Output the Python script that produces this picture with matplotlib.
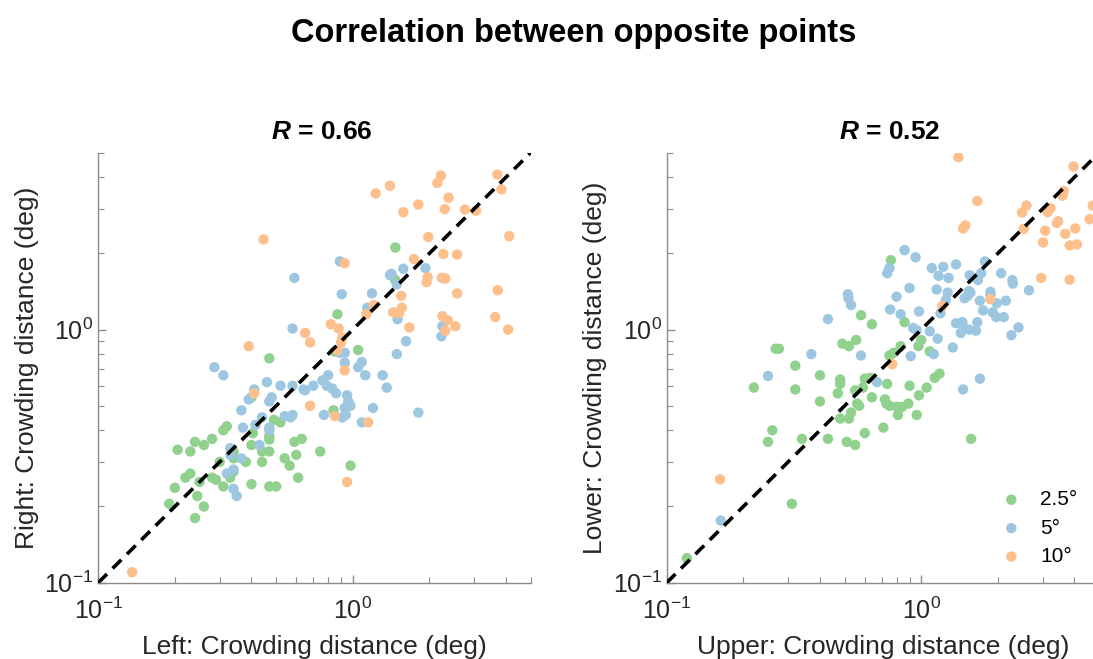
import matplotlib
matplotlib.use('Agg')
import matplotlib.pyplot as plt
from matplotlib.ticker import LogLocator, NullFormatter, LogFormatterSciNotation
import numpy as np

plt.rcParams['font.family'] = ['Liberation Sans', 'DejaVu Sans']
plt.rcParams['mathtext.fontset'] = 'custom'
plt.rcParams['mathtext.rm'] = 'Liberation Sans'
plt.rcParams['mathtext.it'] = 'Liberation Sans:italic'
plt.rcParams['mathtext.bf'] = 'Liberation Sans:bold'
plt.rcParams['mathtext.bfit'] = 'Liberation Sans:italic:bold'

# crowding distances (deg), left vs right
lr_green_x = [1.47, 0.87, 1.47, 0.47, 1.05, 0.85, 0.84, 0.40, 0.49, 0.52, 0.32, 0.31, 0.28, 0.24, 0.26,
              0.205, 0.23, 0.40, 0.405, 0.47, 0.47, 0.44, 0.47, 0.63, 0.59, 0.54, 0.60, 0.745, 0.34, 0.34,
              0.38, 0.30, 0.44, 0.565, 0.34, 0.23, 0.22, 0.25, 0.28, 0.29, 0.33, 0.31, 0.40, 0.47, 0.50,
              0.61, 0.98, 0.20, 0.245, 0.19, 0.26, 0.24]
lr_green_y = [2.11, 1.15, 1.57, 0.77, 0.83, 0.82, 0.48, 0.54, 0.44, 0.43, 0.415, 0.40, 0.37, 0.36, 0.35,
              0.335, 0.33, 0.35, 0.39, 0.38, 0.368, 0.33, 0.33, 0.37, 0.36, 0.31, 0.32, 0.33, 0.33, 0.31,
              0.30, 0.30, 0.30, 0.29, 0.275, 0.27, 0.26, 0.25, 0.26, 0.255, 0.26, 0.24, 0.245, 0.24, 0.24,
              0.26, 0.29, 0.237, 0.22, 0.205, 0.20, 0.18]
lr_blue_x = [0.89, 0.59, 0.905, 1.58, 1.93, 1.40, 1.42, 1.49, 1.19, 1.14, 1.50, 2.25, 2.23, 1.62, 1.49,
             0.58, 0.93, 0.89, 0.93, 1.05, 1.085, 1.12, 1.31, 1.36, 0.286, 0.31, 0.46, 0.52, 0.58, 0.41,
             0.64, 0.65, 0.70, 0.76, 0.80, 0.79, 0.83, 0.86, 0.95, 0.96, 0.98, 0.93, 0.94, 0.91, 1.20,
             0.77, 1.085, 1.81, 0.48, 0.47, 0.39, 0.365, 0.44, 0.54, 0.58, 0.57, 0.47, 0.47, 0.415, 0.37,
             0.43, 0.33, 0.33, 0.365, 0.34, 0.32, 0.34, 0.35]
lr_blue_y = [1.86, 1.60, 1.38, 1.74, 1.75, 1.64, 1.66, 1.51, 1.39, 1.22, 1.10, 1.03, 0.94, 0.90, 0.80,
             1.01, 0.81, 0.81, 0.74, 0.71, 0.745, 0.66, 0.66, 0.59, 0.71, 0.66, 0.62, 0.60, 0.60, 0.58,
             0.58, 0.576, 0.60, 0.63, 0.66, 0.60, 0.585, 0.56, 0.55, 0.52, 0.50, 0.49, 0.46, 0.45, 0.49,
             0.46, 0.43, 0.47, 0.54, 0.52, 0.53, 0.48, 0.45, 0.455, 0.46, 0.45, 0.41, 0.40, 0.42, 0.41,
             0.35, 0.34, 0.32, 0.31, 0.28, 0.27, 0.235, 0.22]
lr_orange_x = [0.136, 2.22, 3.7, 1.4, 2.15, 1.23, 2.38, 3.84, 1.81, 1.58, 2.30, 2.76, 3.05, 0.446, 1.98,
               4.12, 2.27, 2.57, 1.74, 0.93, 1.97, 1.95, 2.24, 2.31, 1.55, 2.57, 3.71, 1.21, 1.56, 1.44,
               1.52, 1.13, 3.63, 2.25, 2.36, 2.53, 2.31, 1.67, 4.08, 0.82, 0.88, 0.65, 0.68, 0.91, 0.90,
               0.87, 0.39, 0.93, 0.41, 0.68, 0.85, 1.15, 0.95]
lr_orange_y = [0.11, 4.06, 4.1, 3.7, 3.8, 3.45, 3.32, 3.58, 3.12, 2.91, 2.99, 2.98, 2.95, 2.27, 2.32,
               2.34, 1.99, 1.98, 1.90, 1.83, 1.61, 1.54, 1.60, 1.59, 1.36, 1.39, 1.43, 1.25, 1.22, 1.17,
               1.16, 1.15, 1.12, 1.13, 1.09, 1.03, 0.99, 1.02, 1.0, 1.05, 1.01, 0.97, 0.89, 0.93, 0.89,
               0.83, 0.86, 0.69, 0.56, 0.50, 0.455, 0.43, 0.25]

# crowding distances (deg), upper vs lower
ul_green_x = [0.76, 0.58, 0.64, 0.86, 0.555, 0.49, 0.52, 0.268, 0.276, 0.32, 0.40, 0.48, 0.48, 0.22, 0.32,
              0.60, 0.63, 0.735, 0.78, 0.75, 0.83, 0.975, 1.0, 1.08, 1.13, 1.18, 0.90, 1.05, 0.98, 0.47,
              0.55, 0.59, 0.64, 0.72, 0.73, 0.75, 0.80, 0.81, 0.84, 0.89, 0.96, 0.56, 0.57, 0.40, 0.53,
              0.48, 0.52, 0.71, 0.60, 0.26, 0.25, 0.34, 0.43, 0.51, 0.55, 1.57, 0.31, 0.12]
ul_green_y = [1.88, 1.14, 1.05, 1.07, 0.91, 0.88, 0.86, 0.84, 0.84, 0.72, 0.66, 0.635, 0.61, 0.59, 0.58,
              0.64, 0.645, 0.61, 0.81, 0.79, 0.86, 0.86, 0.91, 0.82, 0.645, 0.67, 0.60, 0.59, 0.55, 0.56,
              0.575, 0.59, 0.54, 0.53, 0.51, 0.50, 0.495, 0.46, 0.495, 0.51, 0.46, 0.51, 0.50, 0.52, 0.47,
              0.445, 0.445, 0.41, 0.39, 0.40, 0.36, 0.37, 0.37, 0.36, 0.35, 0.37, 0.205, 0.125]
ul_blue_x = [0.86, 0.95, 0.75, 0.735, 1.10, 1.22, 1.37, 1.17, 1.28, 1.78, 1.55, 1.67, 1.72, 2.06, 2.28,
             2.29, 2.65, 0.515, 0.518, 0.53, 0.90, 0.80, 1.15, 1.27, 1.54, 1.56, 1.48, 1.52, 1.25, 1.70,
             1.87, 1.87, 1.98, 2.15, 0.755, 0.83, 0.98, 1.19, 1.75, 1.91, 1.97, 2.11, 1.37, 1.45, 1.47,
             1.54, 1.66, 1.64, 1.43, 2.41, 2.26, 0.43, 0.93, 0.96, 1.08, 1.16, 1.33, 0.91, 1.12, 0.37,
             0.58, 0.25, 0.67, 1.70, 1.46, 0.163]
ul_blue_y = [2.06, 1.93, 1.75, 1.67, 1.75, 1.77, 1.81, 1.63, 1.60, 1.86, 1.64, 1.57, 1.67, 1.67, 1.57,
             1.52, 1.43, 1.38, 1.33, 1.25, 1.46, 1.35, 1.44, 1.40, 1.42, 1.40, 1.33, 1.36, 1.31, 1.30,
             1.41, 1.37, 1.27, 1.30, 1.20, 1.15, 1.18, 1.16, 1.19, 1.17, 1.12, 1.12, 1.06, 1.07, 1.02,
             1.0, 1.07, 0.99, 0.97, 1.02, 0.95, 1.10, 1.015, 0.995, 0.985, 0.92, 0.85, 0.785, 0.80, 0.80,
             0.79, 0.656, 0.62, 0.64, 0.58, 0.176]
ul_orange_x = [1.40, 3.97, 1.66, 3.63, 3.59, 2.59, 2.49, 3.14, 3.22, 4.72, 1.46, 1.49, 2.53, 3.45, 3.41,
               3.07, 4.03, 4.59, 3.68, 3.01, 3.83, 4.09, 2.96, 3.83, 1.87, 1.21, 0.77, 0.162]
ul_orange_y = [4.80, 4.41, 3.22, 3.53, 3.38, 3.09, 2.90, 2.91, 3.02, 3.09, 2.51, 2.58, 2.50, 2.68, 2.64,
               2.46, 2.51, 2.73, 2.39, 2.21, 2.15, 2.17, 1.60, 1.575, 1.32, 1.24, 0.73, 0.256]

ecc_labels = ['2.5°', '5°', '10°']
ecc_colors = ['#8fd18d', '#9dc7e0', '#fdbf8c']
r_values = [0.66, 0.52]
x_labels = ['Left: Crowding distance (deg)', 'Upper: Crowding distance (deg)']
y_labels = ['Right: Crowding distance (deg)', 'Lower: Crowding distance (deg)']
lims = [0.1, 5]

fig = plt.figure(figsize=(10.93, 6.59), dpi=100)
ax1 = fig.add_axes([0.0899, 0.1158, 0.3956, 0.6525])
ax2 = fig.add_axes([0.6100, 0.1158, 0.3956, 0.6525])

panels = [
    (ax1, [(lr_green_x, lr_green_y), (lr_blue_x, lr_blue_y), (lr_orange_x, lr_orange_y)]),
    (ax2, [(ul_green_x, ul_green_y), (ul_blue_x, ul_blue_y), (ul_orange_x, ul_orange_y)]),
]

for k, (ax, groups) in enumerate(panels):
    for (gx, gy), col, lab in zip(groups, ecc_colors, ecc_labels):
        ax.scatter(gx, gy, s=56, c=col, edgecolors='none', label=lab, zorder=2)
    ax.plot(lims, lims, color='k', lw=2.6, linestyle=(0, (3.4, 2.2)), zorder=3)
    ax.set_xscale('log')
    ax.set_yscale('log')
    ax.set_xlim(lims)
    ax.set_ylim(lims)
    for a in (ax.xaxis, ax.yaxis):
        a.set_major_locator(LogLocator(base=10))
        a.set_major_formatter(LogFormatterSciNotation())
        a.set_minor_locator(LogLocator(base=10, subs=np.arange(2, 10)))
        a.set_minor_formatter(NullFormatter())
    for s in ['top', 'right']:
        ax.spines[s].set_visible(False)
    for s in ['left', 'bottom']:
        ax.spines[s].set_color('#8c8c8c')
        ax.spines[s].set_linewidth(1.0)
    ax.tick_params(which='both', direction='in', colors='#8c8c8c', labelcolor='#262626',
                   labelsize=18)
    ax.tick_params(which='major', length=6, width=1)
    ax.tick_params(which='minor', length=4, width=0.8)
    ax.tick_params(axis='x', pad=11)
    ax.set_xlabel(x_labels[k], fontsize=19, color='#262626', labelpad=8)
    ax.set_ylabel(y_labels[k], fontsize=19, color='#262626', labelpad=4)
    ax.set_title(r'$\bfit{R}$ = %.2f' % r_values[k], fontsize=19, fontweight='bold',
                 pad=10, x=0.516)

ax2.legend(loc='lower left', bbox_to_anchor=(0.715, 0.005), frameon=False, fontsize=15,
           handletextpad=0.4, labelspacing=0.45, scatterpoints=1, borderaxespad=0.3)

fig.suptitle('Correlation between opposite points', fontsize=23.5, fontweight='bold',
             x=0.525, y=0.972)

fig.savefig('out.png', dpi=100)
